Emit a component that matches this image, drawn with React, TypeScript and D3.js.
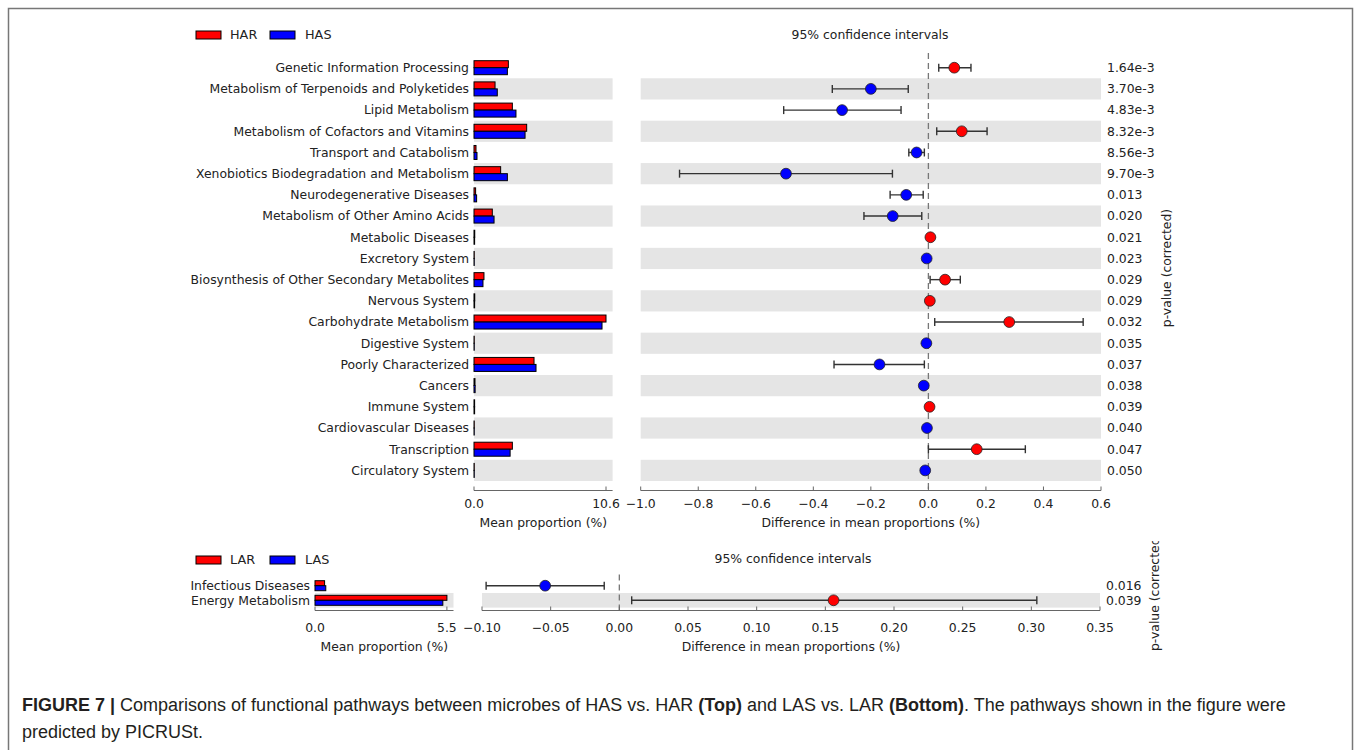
import React from 'react';
import * as d3 from 'd3';

// top panel: HAS vs HAR
const topCategories = [
  'Genetic Information Processing',
  'Metabolism of Terpenoids and Polyketides',
  'Lipid Metabolism',
  'Metabolism of Cofactors and Vitamins',
  'Transport and Catabolism',
  'Xenobiotics Biodegradation and Metabolism',
  'Neurodegenerative Diseases',
  'Metabolism of Other Amino Acids',
  'Metabolic Diseases',
  'Excretory System',
  'Biosynthesis of Other Secondary Metabolites',
  'Nervous System',
  'Carbohydrate Metabolism',
  'Digestive System',
  'Poorly Characterized',
  'Cancers',
  'Immune System',
  'Cardiovascular Diseases',
  'Transcription',
  'Circulatory System',
];
const topHAR = [2.76, 1.69, 3.08, 4.23, 0.16, 2.14, 0.13, 1.47, 0.06, 0.02, 0.8, 0.06, 10.6, 0.02, 4.82, 0.08, 0.05, 0.02, 3.08, 0.02];
const topHAS = [2.68, 1.87, 3.37, 4.1, 0.24, 2.68, 0.21, 1.61, 0.05, 0.02, 0.72, 0.05, 10.28, 0.02, 4.98, 0.09, 0.05, 0.02, 2.9, 0.02];
const topDiff = [0.09, -0.2, -0.3, 0.116, -0.041, -0.495, -0.077, -0.124, 0.007, -0.006, 0.058, 0.005, 0.281, -0.007, -0.17, -0.016, 0.004, -0.005, 0.168, -0.011];
const topLo = [0.036, -0.334, -0.503, 0.029, -0.068, -0.865, -0.133, -0.224, 0.004, -0.009, 0.006, 0.002, 0.022, -0.01, -0.328, -0.022, 0.001, -0.008, 0.0, -0.015];
const topHi = [0.148, -0.07, -0.095, 0.204, -0.014, -0.125, -0.018, -0.023, 0.01, -0.003, 0.111, 0.008, 0.538, -0.004, -0.014, -0.01, 0.007, -0.002, 0.337, -0.007];
const topP = ['1.64e-3', '3.70e-3', '4.83e-3', '8.32e-3', '8.56e-3', '9.70e-3', '0.013', '0.020', '0.021', '0.023', '0.029', '0.029', '0.032', '0.035', '0.037', '0.038', '0.039', '0.040', '0.047', '0.050'];
const topBarTicks = [0, 10.6];
const topCiTicks = [-1.0, -0.8, -0.6, -0.4, -0.2, 0.0, 0.2, 0.4, 0.6];

// bottom panel: LAS vs LAR
const botCategories = ['Infectious Diseases', 'Energy Metabolism'];
const botLAR = [0.4, 5.5];
const botLAS = [0.45, 5.33];
const botDiff = [-0.054, 0.156];
const botLo = [-0.097, 0.009];
const botHi = [-0.011, 0.304];
const botP = ['0.016', '0.039'];
const botBarTicks = [0, 5.5];
const botCiTicks = [-0.1, -0.05, 0, 0.05, 0.1, 0.15, 0.2, 0.25, 0.3, 0.35];

const RED = '#ff0000';
const BLUE = '#0000ff';
const BAND = '#e5e5e5';
const AXIS = '#666';
const FONT = 'DejaVu Sans, sans-serif';
const FS = 12.4;

function Panel({ cats, g1, g2, diff, lo, hi, pv, names, barTicks, ciTicks, barFmt, ciFmt,
  yTop, yBottom, axisY, tickOff, titleOff, barX0, barX1, barMax, ciX0, ciX1, ciDomain,
  legendY, titleX, titleY, pLabelX, pLabelY, clipTop, barH, id }) {
  const y = d3.scaleBand().domain(cats).range([yTop, yBottom]).padding(0);
  const bw = y.bandwidth();
  const xb = d3.scaleLinear().domain([0, barMax * 1.05]).range([barX0, barX1]);
  const xc = d3.scaleLinear().domain(ciDomain).range([ciX0, ciX1]);
  const cy = (c) => y(c) + bw / 2;

  return (
    <g fontFamily={FONT} fill="#222">
      {/* legend */}
      <rect x={196} y={legendY - 4} width={25} height={8} fill={RED} stroke="#000" strokeWidth={1} />
      <text x={230} y={legendY} dy="0.35em" fontSize={12.8}>{names[0]}</text>
      <rect x={270} y={legendY - 4} width={25} height={8} fill={BLUE} stroke="#000" strokeWidth={1} />
      <text x={305} y={legendY} dy="0.35em" fontSize={12.8}>{names[1]}</text>

      <text x={titleX} y={titleY} dy="0.35em" fontSize={FS} textAnchor="middle">95% confidence intervals</text>

      {/* bands */}
      {cats.map((c, i) => i % 2 === 1 && (
        <g key={'b' + i}>
          <rect x={barX0} y={y(c)} width={barX1 - barX0} height={bw} fill={BAND} />
          <rect x={ciX0} y={y(c)} width={ciX1 - ciX0} height={bw} fill={BAND} />
        </g>
      ))}

      {/* bars */}
      {cats.map((c, i) => (
        <g key={'bar' + i}>
          <text x={barX0 - 5} y={cy(c)} dy="0.35em" fontSize={FS} textAnchor="end">{c}</text>
          <rect x={xb(0)} y={cy(c) - barH} width={xb(g1[i]) - xb(0)} height={barH} fill={RED} stroke="#000" strokeWidth={1} />
          <rect x={xb(0)} y={cy(c)} width={xb(g2[i]) - xb(0)} height={barH} fill={BLUE} stroke="#000" strokeWidth={1} />
        </g>
      ))}

      {/* zero line */}
      <line x1={xc(0)} x2={xc(0)} y1={yTop - 4} y2={axisY} stroke="#777" strokeWidth={1.3} strokeDasharray="6,4" />

      {/* CI */}
      {cats.map((c, i) => (
        <g key={'ci' + i}>
          <line x1={xc(lo[i])} x2={xc(hi[i])} y1={cy(c)} y2={cy(c)} stroke="#333" strokeWidth={1.4} />
          <line x1={xc(lo[i])} x2={xc(lo[i])} y1={cy(c) - 4} y2={cy(c) + 4} stroke="#333" strokeWidth={1.4} />
          <line x1={xc(hi[i])} x2={xc(hi[i])} y1={cy(c) - 4} y2={cy(c) + 4} stroke="#333" strokeWidth={1.4} />
          <circle cx={xc(diff[i])} cy={cy(c)} r={5.4} fill={diff[i] > 0 ? RED : BLUE} stroke="#222" strokeWidth={0.8} />
          <text x={ciX1 + 6} y={cy(c)} dy="0.35em" fontSize={FS}>{pv[i]}</text>
        </g>
      ))}

      {/* bar axis */}
      <line x1={barX0} x2={barX1} y1={axisY} y2={axisY} stroke={AXIS} strokeWidth={1} />
      {barTicks.map((t) => (
        <g key={'bt' + t}>
          <line x1={xb(t)} x2={xb(t)} y1={axisY} y2={axisY - 4} stroke={AXIS} />
          <text x={xb(t)} y={axisY + tickOff} dy="0.35em" fontSize={FS} textAnchor="middle">{barFmt(t)}</text>
        </g>
      ))}
      <text x={(barX0 + barX1) / 2} y={axisY + titleOff} dy="0.35em" fontSize={FS} textAnchor="middle">Mean proportion (%)</text>

      {/* ci axis */}
      <line x1={ciX0} x2={ciX1} y1={axisY} y2={axisY} stroke={AXIS} strokeWidth={1} />
      {ciTicks.map((t) => (
        <g key={'ct' + t}>
          <line x1={xc(t)} x2={xc(t)} y1={axisY} y2={axisY - 4} stroke={AXIS} />
          <text x={xc(t)} y={axisY + tickOff} dy="0.35em" fontSize={FS} textAnchor="middle">{ciFmt(t)}</text>
        </g>
      ))}
      <text x={(ciX0 + ciX1) / 2} y={axisY + titleOff} dy="0.35em" fontSize={FS} textAnchor="middle">Difference in mean proportions (%)</text>

      {/* p-value label */}
      <defs>
        <clipPath id={id}>
          <rect x={pLabelX - 20} y={clipTop} width={40} height={1000} />
        </clipPath>
      </defs>
      <g clipPath={`url(#${id})`}>
        <text transform={`translate(${pLabelX},${pLabelY}) rotate(-90)`} dy="0.35em" fontSize={FS}
          textAnchor={clipTop > 0 ? 'start' : 'middle'}>p-value (corrected)</text>
      </g>
    </g>
  );
}

export default function App() {
  return (
    <svg width={1362} height={750} style={{ position: 'absolute', left: 0, top: 0, background: '#fff' }}>
      <rect x={8.5} y={8.5} width={1344} height={760} fill="none" stroke="#777" strokeWidth={1.5} />
      <Panel id="clipTop" cats={topCategories} g1={topHAR} g2={topHAS} diff={topDiff} lo={topLo} hi={topHi} pv={topP}
        names={['HAR', 'HAS']} barTicks={topBarTicks} ciTicks={topCiTicks}
        barFmt={d3.format('.1f')} ciFmt={d3.format('.1f')}
        yTop={57.1} yBottom={481} axisY={490.5} tickOff={13} titleOff={32} barX0={474} barX1={612.6} barMax={10.6}
        ciX0={640.7} ciX1={1101} ciDomain={[-1, 0.6]} legendY={35} titleX={870} titleY={35}
        pLabelX={1167} pLabelY={268} clipTop={0} barH={7} />
      <Panel id="clipBot" cats={botCategories} g1={botLAR} g2={botLAS} diff={botDiff} lo={botLo} hi={botHi} pv={botP}
        names={['LAR', 'LAS']} barTicks={botBarTicks} ciTicks={botCiTicks}
        barFmt={d3.format('.1f')} ciFmt={d3.format('.2f')}
        yTop={578.4} yBottom={607.6} axisY={610.5} tickOff={17} titleOff={36} barX0={315} barX1={453.5} barMax={5.5}
        ciX0={482} ciX1={1100} ciDomain={[-0.1, 0.35]} legendY={560} titleX={793} titleY={559}
        pLabelX={1155} pLabelY={651} clipTop={541} barH={5} />
      <text x={22} y={710.5} fontFamily="Liberation Sans, Arial, sans-serif" fontSize={18} fill="#231f20">
        <tspan fontWeight="bold">FIGURE 7 |</tspan>
        <tspan> Comparisons of functional pathways between microbes of HAS vs. HAR </tspan>
        <tspan fontWeight="bold">(Top)</tspan>
        <tspan> and LAS vs. LAR </tspan>
        <tspan fontWeight="bold">(Bottom)</tspan>
        <tspan>. The pathways shown in the figure were</tspan>
      </text>
      <text x={22} y={737.5} fontFamily="Liberation Sans, Arial, sans-serif" fontSize={18} fill="#231f20">predicted by PICRUSt.</text>
    </svg>
  );
}
